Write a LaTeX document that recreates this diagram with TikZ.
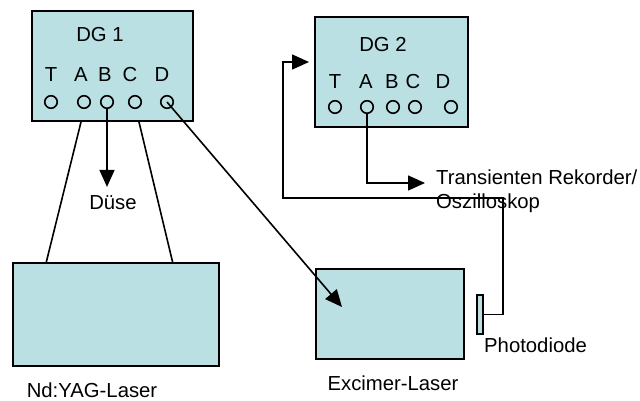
\documentclass[tikz,border=0pt]{standalone}
\usepackage{fontspec}
\setmainfont{Liberation Sans}
\usetikzlibrary{arrows.meta,calc}
\definecolor{boxfill}{RGB}{186,224,227}
\tikzset{
  device/.style={draw, line width=2pt, fill=boxfill, inner sep=0pt},
  port/.style={draw, circle, line width=1.6pt, minimum size=12.5pt, inner sep=0pt},
  lbl/.style={inner sep=0pt, font=\fontsize{20.3pt}{24pt}\selectfont},
  wire/.style={line width=1.6pt},
  arr/.style={wire, -{Triangle[length=17pt,width=15pt]}}
}
\begin{document}
\begin{tikzpicture}[x=1pt,y=-1pt]
    \useasboundingbox (0,0) rectangle (640,401);

    % Delay generators
    \node[device, minimum width=161pt, minimum height=110pt] (dg1) at (112.5,66) {};
    \node[device, minimum width=153pt, minimum height=110pt] (dg2) at (391.5,72) {};
    \node[lbl] (dg1name) at (100,35) {DG 1};
    \node[lbl] (dg2name) at (383,45) {DG 2};

    % Channels of DG 1
    \node[lbl] (dg1Tl) at (51,75) {T};
    \node[lbl] (dg1Al) at (81,75) {A};
    \node[lbl] (dg1Bl) at (105,75) {B};
    \node[lbl] (dg1Cl) at (130,75) {C};
    \node[lbl] (dg1Dl) at (162,75) {D};
    \node[port] (dg1T) at (51,102) {};
    \node[port] (dg1A) at (84,102) {};
    \node[port] (dg1B) at (107,102) {};
    \node[port] (dg1C) at (135,102) {};
    \node[port] (dg1D) at (167,102) {};

    % Channels of DG 2
    \node[lbl] (dg2Tl) at (335,82) {T};
    \node[lbl] (dg2Al) at (366,82) {A};
    \node[lbl] (dg2Bl) at (392,82) {B};
    \node[lbl] (dg2Cl) at (413,82) {C};
    \node[lbl] (dg2Dl) at (443,82) {D};
    \node[port] (dg2T) at (335,107) {};
    \node[port] (dg2A) at (367,107) {};
    \node[port] (dg2B) at (393,107) {};
    \node[port] (dg2C) at (415,107) {};
    \node[port] (dg2D) at (451,107) {};

    % Lasers and photodiode
    \node[device, minimum width=206pt, minimum height=103pt] (yag) at (116,314.5) {};
    \node[device, minimum width=148pt, minimum height=90pt] (excimer) at (390,314) {};
    \node[device, line width=1.5pt, minimum width=6pt, minimum height=39pt] (pd) at (480,314.5) {};

    % Labels
    \node[lbl, outer ysep=9pt] (duese) at (113,203) {Düse};
    \node[lbl] (yagname) at (92,390) {Nd:YAG-Laser};
    \node[lbl] (exname) at (393,383) {Excimer-Laser};
    \node[lbl, anchor=west] (pdname) at (484,345) {Photodiode};
    \node[lbl, anchor=west, align=left] (recorder) at (436,191) {Transienten Rekorder/\\Oszilloskop};

    % Free ends
    \coordinate (exin) at (342,307);
    \coordinate (rectip) at (425,183);
    \coordinate (wireR) at (503,198);
    \coordinate (wireL) at (283,198);

    % Connections
    \draw[wire] ([xshift=-3pt]dg1A |- dg1.south) -- ($(yag.north west)!0.165!(yag.north east)$);
    \draw[wire] ([xshift=4pt]dg1C |- dg1.south) -- ($(yag.north west)!0.772!(yag.north east)$);
    \draw[arr] (dg1B.south) -- (dg1B |- duese.north);
    \draw[arr] (dg1D.center) -- (exin);
    \draw[arr] (dg2A.south) |- (rectip);
    \draw[arr, shorten >=5pt] (pd.east) -| (wireR) -- (wireL) |- ([yshift=10pt]dg2.west);
\end{tikzpicture}
\end{document}
